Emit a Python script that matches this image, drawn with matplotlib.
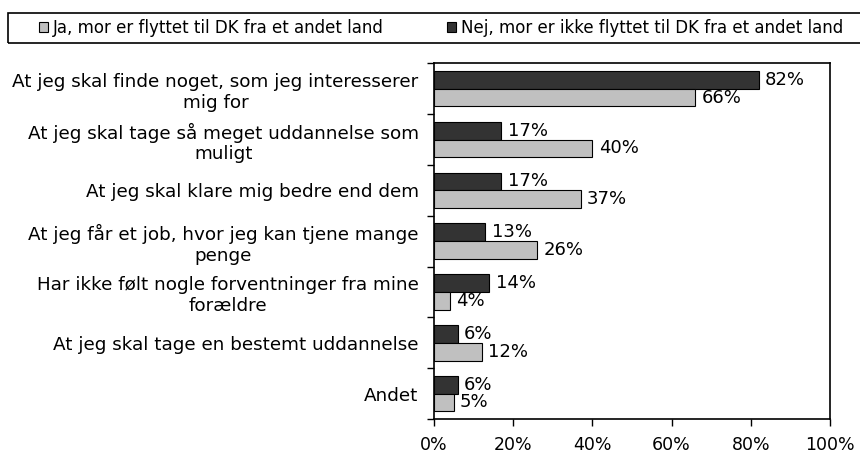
import matplotlib
matplotlib.use("Agg")
import matplotlib.pyplot as plt
import numpy as np
from matplotlib.patches import Rectangle, Patch

categories = [
    "At jeg skal finde noget, som jeg interesserer\nmig for",
    "At jeg skal tage så meget uddannelse som\nmuligt",
    "At jeg skal klare mig bedre end dem",
    "At jeg får et job, hvor jeg kan tjene mange\npenge",
    "Har ikke følt nogle forventninger fra mine\nforældre",
    "At jeg skal tage en bestemt uddannelse",
    "Andet",
]
ja_values = [66, 40, 37, 26, 4, 12, 5]
nej_values = [82, 17, 17, 13, 14, 6, 6]
series_names = ["Ja, mor er flyttet til DK fra et andet land",
                "Nej, mor er ikke flyttet til DK fra et andet land"]
xticks = [0, 20, 40, 60, 80, 100]

plt.rcParams['font.family'] = ['DejaVu Sans']

fig = plt.figure(figsize=(8.6, 4.54), dpi=100)
ax = fig.add_axes([434/860, 1-419/454, (830-434)/860, (419-63.3)/454])

n = len(categories)
y = np.arange(n)
h = 0.35
dark = "#333333"
light = "#c0c0c0"
b_nej = ax.barh(y - h/2, nej_values, height=h, color=dark, edgecolor="black", linewidth=0.8)
b_ja = ax.barh(y + h/2, ja_values, height=h, color=light, edgecolor="black", linewidth=0.8)
ax.bar_label(b_nej, labels=[f"{v}%" for v in nej_values], padding=4.5, fontsize=13)
ax.bar_label(b_ja, labels=[f"{v}%" for v in ja_values], padding=4.5, fontsize=13)

ax.set_xlim(0, 100)
ax.set_ylim(n - 0.5, -0.5)
ax.set_xticks(xticks)
ax.set_xticklabels([f"{t}%" for t in xticks], fontsize=12.5)
ax.set_yticks(y)
ax.set_yticklabels(categories, fontsize=13.2, multialignment='center')
ax.tick_params(axis='y', length=0, pad=11)
ax.set_yticks(np.arange(n + 1) - 0.5, minor=True)
ax.tick_params(axis='y', which='minor', length=5, width=1)
ax.tick_params(axis='x', length=5, width=1, pad=7)
for s in ax.spines.values():
    s.set_linewidth(1.2)

# legend frame
fig.patches.append(Rectangle((8/860, 1-43/454), 870/860, 30/454, transform=fig.transFigure,
                             fill=False, edgecolor="black", linewidth=1.2, clip_on=False))
handles = [Patch(facecolor=light, edgecolor="black", linewidth=0.8),
           Patch(facecolor=dark, edgecolor="black", linewidth=0.8)]
fig.legend(handles, series_names, loc='center left', bbox_to_anchor=(39/860, 1-28/454),
           ncol=2, frameon=False, fontsize=12, handlelength=0.55, handleheight=0.55,
           handletextpad=0.3, columnspacing=3.75, borderpad=0, borderaxespad=0)

fig.savefig("out.png", dpi=100)
